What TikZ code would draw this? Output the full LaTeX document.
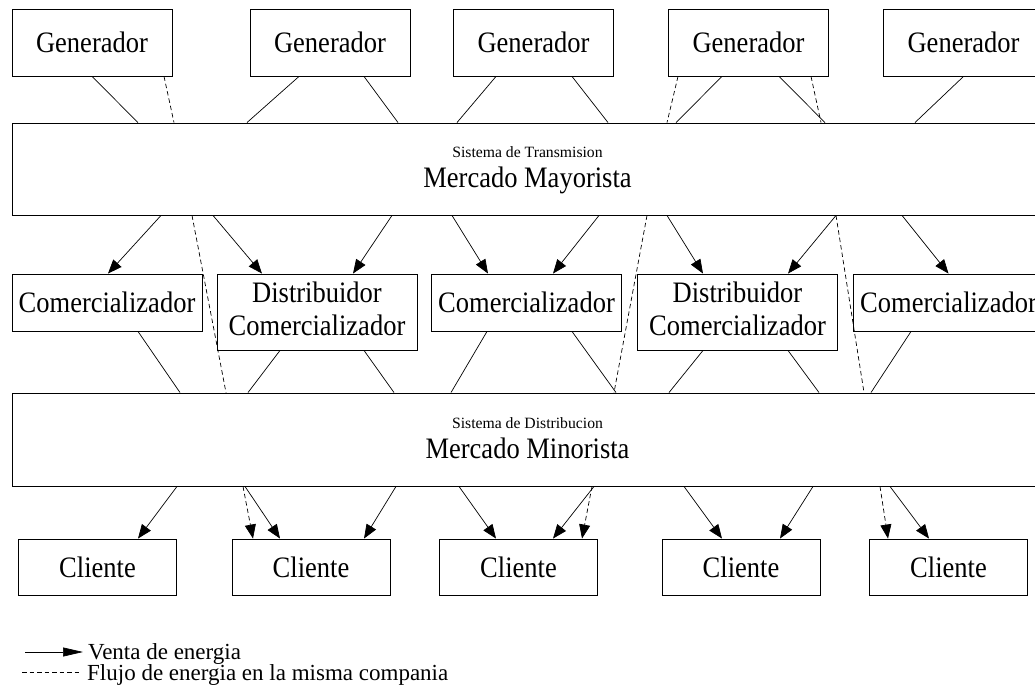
\documentclass[tikz,border=0pt]{standalone}
\usepackage{fontspec}
\usepackage{graphicx}
\setmainfont{Liberation Serif}
\usetikzlibrary{arrows.meta}
\newcommand{\vstr}[1]{\scalebox{1}[1.12]{#1}}
\newcommand{\twol}[2]{\vstr{\begin{tabular}{@{}c@{}}#1\\[-3pt]#2\end{tabular}}}
\begin{document}
\begin{tikzpicture}[x=1pt,y=-1pt,
  box/.style={draw, line width=0.9pt, inner sep=0pt, align=center,
    font=\fontsize{26.5}{32}\selectfont},
  gbox/.style={box, minimum width=160pt, minimum height=67pt},
  cbox/.style={box, minimum width=190pt, minimum height=57pt},
  dbox/.style={box, minimum width=200pt, minimum height=76pt},
  klbox/.style={box, minimum width=158pt, minimum height=56pt},
  bigbox/.style={draw, line width=0.9pt, inner sep=0pt, minimum width=1031pt, minimum height=92pt},
  small/.style={anchor=base, inner sep=0pt, font=\fontsize{15.7}{18}\selectfont},
  big/.style={anchor=base, inner sep=0pt, font=\fontsize{26.5}{30}\selectfont},
  conn/.style={line width=0.7pt},
  dconn/.style={line width=0.7pt, dash pattern=on 4.5pt off 3pt},
  arr/.style={conn, -{Triangle[length=14pt,width=11pt]}},
  darr/.style={dconn, -{Triangle[length=14pt,width=11pt]}},
  leg/.style={anchor=base west, inner sep=0pt, font=\fontsize{23}{26}\selectfont}
]
\useasboundingbox (0,0) rectangle (1035,700);
\clip (0,0) rectangle (1035,700);
\fill[white] (0,0) rectangle (1035,700);

% Generators
\node[gbox] (gen1) at (92,42.5) {\vstr{Generador}};
\node[gbox] (gen2) at (330,42.5) {\vstr{Generador}};
\node[gbox] (gen3) at (533.5,42.5) {\vstr{Generador}};
\node[gbox] (gen4) at (748.5,42.5) {\vstr{Generador}};
\node[gbox] (gen5) at (963.5,42.5) {\vstr{Generador}};

% Mercado Mayorista
\node[bigbox] (may) at (527.5,169) {};
\node[small] (mays) at (527.5,158) {Sistema de Transmision};
\node[big] (mayt) at (527.5,188) {\vstr{Mercado Mayorista}};

% Middle row
\node[cbox] (com1) at (107,302.5) {\vstr{Comercializador}};
\node[dbox] (dis1) at (317,312) {\twol{Distribuidor}{Comercializador}};
\node[cbox] (com2) at (526.5,302.5) {\vstr{Comercializador}};
\node[dbox] (dis2) at (737.5,312) {\twol{Distribuidor}{Comercializador}};
\node[cbox] (com3) at (948.5,302.5) {\vstr{Comercializador}};

% Mercado Minorista
\node[bigbox, minimum height=93pt] (min) at (527.5,439.5) {};
\node[small] (mins) at (527.5,428.5) {Sistema de Distribucion};
\node[big] (mint) at (527.5,458) {\vstr{Mercado Minorista}};

% Clients
\node[klbox] (cli1) at (97.5,567) {\vstr{Cliente}};
\node[klbox] (cli2) at (311,567) {\vstr{Cliente}};
\node[klbox] (cli3) at (518.5,567) {\vstr{Cliente}};
\node[klbox] (cli4) at (741,567) {\vstr{Cliente}};
\node[klbox] (cli5) at (948.5,567) {\vstr{Cliente}};

% Generators -> Mayorista
\draw[conn] (gen1.south) -- ([xshift=-389.5pt]may.north);
\draw[dconn] ([xshift=72pt]gen1.south) -- ([xshift=-353.5pt]may.north);
\draw[conn] ([xshift=-31pt]gen2.south) -- ([xshift=-280.5pt]may.north);
\draw[conn] ([xshift=34pt]gen2.south) -- ([xshift=-129.5pt]may.north);
\draw[conn] ([xshift=-37.5pt]gen3.south) -- ([xshift=-70.5pt]may.north);
\draw[conn] ([xshift=38.5pt]gen3.south) -- ([xshift=80.5pt]may.north);
\draw[dconn] ([xshift=-70.5pt]gen4.south) -- ([xshift=139.5pt]may.north);
\draw[conn] ([xshift=-26.5pt]gen4.south) -- ([xshift=148.5pt]may.north);
\draw[conn] ([xshift=30.5pt]gen4.south) -- ([xshift=297.5pt]may.north);
\draw[dconn] ([xshift=62.5pt]gen4.south) -- ([xshift=293.5pt]may.north);
\draw[conn] (gen5.south) -- ([xshift=387.5pt]may.north);

% Mayorista -> middle row
\draw[arr] ([xshift=-366.5pt]may.south) -- ([xshift=1pt]com1.north);
\draw[dconn] ([xshift=-335.5pt]may.south) -- ([xshift=-301.5pt]min.north);
\draw[arr] ([xshift=-314.5pt]may.south) -- ([xshift=-55pt]dis1.north);
\draw[arr] ([xshift=-135.5pt]may.south) -- ([xshift=36pt]dis1.north);
\draw[arr] ([xshift=-75.5pt]may.south) -- ([xshift=-38.5pt]com2.north);
\draw[arr] ([xshift=71.5pt]may.south) -- ([xshift=26.5pt]com2.north);
\draw[dconn] ([xshift=119.5pt]may.south) -- ([xshift=86.5pt]min.north);
\draw[arr] ([xshift=139.5pt]may.south) -- ([xshift=-34.5pt]dis2.north);
\draw[arr] ([xshift=308.5pt]may.south) -- ([xshift=50.5pt]dis2.north);
\draw[dconn] ([xshift=308.5pt]may.south) -- ([xshift=336.5pt]min.north);
\draw[arr] ([xshift=374.5pt]may.south) -- (com3.north);

% middle row -> Minorista
\draw[conn] ([xshift=31pt]com1.south) -- ([xshift=-347.5pt]min.north);
\draw[conn] ([xshift=-37pt]dis1.south) -- ([xshift=-279.5pt]min.north);
\draw[conn] ([xshift=47pt]dis1.south) -- ([xshift=-133.5pt]min.north);
\draw[conn] ([xshift=-39.5pt]com2.south) -- ([xshift=-76.5pt]min.north);
\draw[conn] ([xshift=45.5pt]com2.south) -- ([xshift=88.5pt]min.north);
\draw[conn] ([xshift=-34.5pt]dis2.south) -- ([xshift=141.5pt]min.north);
\draw[conn] ([xshift=50.5pt]dis2.south) -- ([xshift=291.5pt]min.north);
\draw[conn] ([xshift=-37.5pt]com3.south) -- ([xshift=343.5pt]min.north);

% Minorista -> clients
\draw[arr] ([xshift=-350.5pt]min.south) -- ([xshift=40.5pt]cli1.north);
\draw[darr] ([xshift=-284.5pt]min.south) -- ([xshift=-58pt]cli2.north);
\draw[arr] ([xshift=-282.5pt]min.south) -- ([xshift=-31pt]cli2.north);
\draw[arr] ([xshift=-131.5pt]min.south) -- ([xshift=53pt]cli2.north);
\draw[arr] ([xshift=-68.5pt]min.south) -- ([xshift=-22.5pt]cli3.north);
\draw[arr] ([xshift=66.5pt]min.south) -- ([xshift=34.5pt]cli3.north);
\draw[darr] ([xshift=64.5pt]min.south) -- ([xshift=63.5pt]cli3.north);
\draw[arr] ([xshift=156.5pt]min.south) -- ([xshift=-19pt]cli4.north);
\draw[arr] ([xshift=285.5pt]min.south) -- ([xshift=39pt]cli4.north);
\draw[darr] ([xshift=352.5pt]min.south) -- ([xshift=-60.5pt]cli5.north);
\draw[arr] ([xshift=362.5pt]min.south) -- ([xshift=-19.5pt]cli5.north);

% Legend
\coordinate (la1) at (25,652);
\coordinate (la2) at (83,652);
\coordinate (ld1) at (22,672);
\coordinate (ld2) at (82,672);
\draw[conn, -{Triangle[length=20pt,width=9pt]}] (la1) -- (la2);
\draw[dconn] (ld1) -- (ld2);
\node[leg] (legA) at (88,659) {Venta de energia};
\node[leg] (legB) at (87,680) {Flujo de energia en la misma compania};
\end{tikzpicture}
\end{document}
